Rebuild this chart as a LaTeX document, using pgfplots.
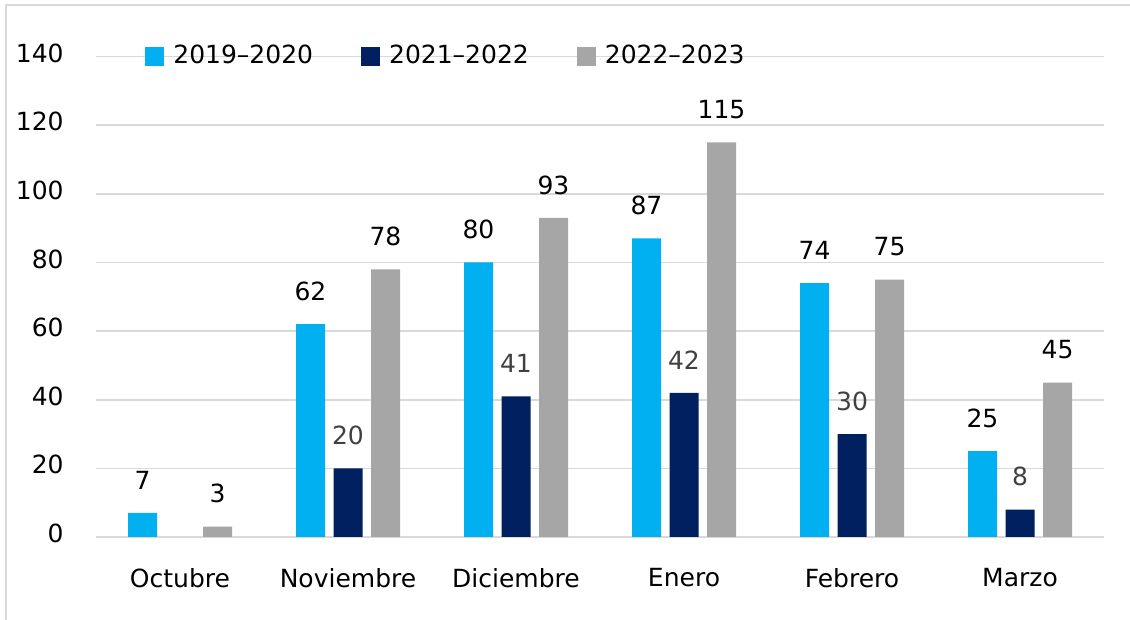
\documentclass[border=0pt]{standalone}
\usepackage{fontspec}
\setmainfont{DejaVu Sans}
\usepackage{pgfplots}
\pgfplotsset{compat=1.18}
\definecolor{cBlue}{HTML}{00B0F0}
\definecolor{cNavy}{HTML}{002060}
\definecolor{cGray}{HTML}{A6A6A6}
\definecolor{cGrid}{HTML}{D9D9D9}
\definecolor{cLab}{HTML}{404040}
\begin{document}
\fontsize{12.5pt}{15pt}\selectfont
\begin{tikzpicture}
\path[use as bounding box] (0,0) rectangle (565pt,310pt);
\draw[cGrid, line width=0.8pt] (3pt,-2pt) -- (3pt,307.5pt) -- (567pt,307.5pt);
\begin{axis}[
  at={(48pt,41.5pt)}, anchor=south west,
  scale only axis, width=504pt, height=240.25pt,
  ymin=0, ymax=140, ytick={0,20,...,140},
  xmin=-0.5, xmax=5.5, xtick={0,...,5},
  xticklabels={Octubre,Noviembre,Diciembre,Enero,Febrero,Marzo},
  axis line style={draw=none},
  major tick length=0pt,
  ymajorgrids, grid style={cGrid, line width=0.8pt},
  /pgf/number format/assume math mode=true,
  yticklabel style={inner sep=0pt, anchor=east, xshift=-16pt, yshift=1.75pt},
  xticklabel style={inner sep=0pt, anchor=north, yshift=-15.5pt},
  ybar=4.25pt, bar width=14.5pt,
  nodes near coords,
  nodes near coords style={inner sep=0pt, anchor=south, yshift=11.5pt},
  legend columns=3,
  legend style={at={(0.0486,1)}, anchor=west, draw=none, fill=none, inner sep=0pt,
    /tikz/every odd column/.append style={column sep=4.5pt},
    /tikz/every even column/.append style={column sep=24pt},
    nodes={inner sep=0pt}},
  legend image code/.code={\fill[#1] (0pt,-4.75pt) rectangle (9.5pt,4.75pt);},
]
\addplot[fill=cBlue, draw=none, nodes near coords style={text=black}] coordinates {(0,7) (1,62) (2,80) (3,87) (4,74) (5,25)};
\addplot[fill=cNavy, draw=none, nodes near coords style={text=cLab}] coordinates {(1,20) (2,41) (3,42) (4,30) (5,8)};
\addplot[fill=cGray, draw=none, nodes near coords style={text=black}] coordinates {(0,3) (1,78) (2,93) (3,115) (4,75) (5,45)};
\legend{2019--2020,2021--2022,2022--2023}
\end{axis}
\end{tikzpicture}
\end{document}
